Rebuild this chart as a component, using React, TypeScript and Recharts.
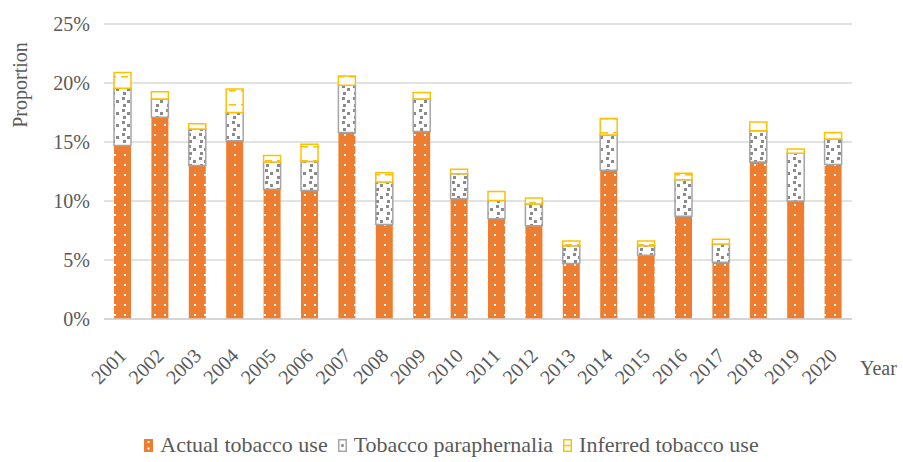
import React from "react";
import { BarChart, Bar, XAxis, YAxis, CartesianGrid, Legend, Label } from "recharts";

const years = ["2001","2002","2003","2004","2005","2006","2007","2008","2009","2010","2011","2012","2013","2014","2015","2016","2017","2018","2019","2020"];
const actualUse = [14.7, 17.1, 13.0, 15.1, 11.0, 10.9, 15.8, 8.0, 15.9, 10.2, 8.5, 7.9, 4.7, 12.6, 5.4, 8.7, 4.8, 13.3, 10.0, 13.1];
const paraphernalia = [4.85, 1.55, 3.1, 2.4, 2.3, 2.45, 4.0, 3.6, 2.75, 2.1, 1.55, 1.85, 1.5, 3.0, 0.8, 3.1, 1.55, 2.65, 4.05, 2.15];
const inferredUse = [1.35, 0.6, 0.45, 2.0, 0.55, 1.45, 0.8, 0.8, 0.55, 0.4, 0.75, 0.5, 0.4, 1.4, 0.4, 0.55, 0.4, 0.75, 0.35, 0.55];
const yTicks = [0, 5, 10, 15, 20, 25];
const seriesNames = ["Actual tobacco use", "Tobacco paraphernalia", "Inferred tobacco use"];

const data = years.map((y, i) => ({
  year: y,
  actual: actualUse[i],
  para: paraphernalia[i],
  inferred: inferredUse[i],
}));

const FONT = "'Liberation Serif', 'Times New Roman', serif";
const TXT = "#595959";
const ORANGE = "#ED7D31";
const GRAY = "#A5A5A5";
const SQ = "#8a8a8a";
const YELLOW = "#FFC000";

const XTick = (props: any) => {
  const { x, y, payload } = props;
  const ax = x + 5;
  const ay = y + 30;
  return (
    <text x={ax} y={ay} transform={`rotate(-45, ${ax}, ${ay})`} textAnchor="end" fill={TXT} fontSize={20} fontFamily={FONT}>
      {payload.value}
    </text>
  );
};

const YTick = (props: any) => {
  const { y, payload } = props;
  return (
    <text x={90} y={y} dy="0.36em" textAnchor="end" fill={TXT} fontSize={20} fontFamily={FONT}>
      {payload.value}%
    </text>
  );
};

const Icon = ({ kind }: { kind: number }) => {
  if (kind === 0) {
    return (
      <svg width={9} height={13} style={{ display: "block" }}>
        <rect x={0} y={0} width={9} height={13} fill={ORANGE} />
        <rect x={3.5} y={2} width={2} height={2} fill="#fff" />
        <rect x={3.5} y={8.5} width={2} height={2} fill="#fff" />
      </svg>
    );
  }
  if (kind === 1) {
    return (
      <svg width={9} height={13} style={{ display: "block" }}>
        <rect x={0.75} y={0.75} width={7.5} height={11.5} fill="#fff" stroke={GRAY} strokeWidth={1.5} />
        <rect x={3.2} y={5.2} width={2.6} height={2.6} fill={SQ} />
      </svg>
    );
  }
  return (
    <svg width={9} height={13} style={{ display: "block" }}>
      <rect x={0.75} y={0.75} width={7.5} height={11.5} fill="#fff" stroke={YELLOW} strokeWidth={1.5} />
      <rect x={1.5} y={5.8} width={6} height={1.5} fill={YELLOW} />
    </svg>
  );
};

const LegendContent = () => (
  <div style={{ display: "flex", justifyContent: "center", alignItems: "center", height: 40, paddingTop: 6, boxSizing: "border-box", fontFamily: FONT, fontSize: 22, color: TXT }}>
    {seriesNames.map((n, i) => (
      <div key={n} style={{ display: "flex", alignItems: "center", marginRight: i < 2 ? 10 : 0 }}>
        <Icon kind={i} />
        <span style={{ marginLeft: 7, whiteSpace: "nowrap" }}>{n}</span>
      </div>
    ))}
  </div>
);

export default function App() {
  return (
    <div style={{ position: "absolute", left: 0, top: 0, width: 903, height: 462, background: "#fff" }}>
      <BarChart width={903} height={462} data={data} margin={{ top: 24, right: 51, bottom: 0, left: 0 }} barSize={17}>
        <defs>
          <pattern id="pDots" width="10" height="10" patternUnits="userSpaceOnUse">
            <rect x="0" y="0" width="10" height="10" fill={ORANGE} />
            <rect x="4" y="4" width="2" height="2" fill="#fff" />
          </pattern>
          <pattern id="pSquares" width="11" height="12" patternUnits="userSpaceOnUse">
            <rect x="0" y="0" width="11" height="12" fill="#fff" />
            <rect x="1" y="1" width="3" height="3" fill={SQ} />
            <rect x="6" y="4" width="3" height="3" fill={SQ} />
            <rect x="2" y="8" width="3" height="3" fill={SQ} />
          </pattern>
          <pattern id="pLines" width="12" height="14" patternUnits="userSpaceOnUse">
            <rect x="0" y="0" width="12" height="14" fill="#fff" />
            <rect x="1" y="6" width="7" height="1.5" fill={YELLOW} />
          </pattern>
        </defs>
        <CartesianGrid vertical={false} stroke="#d9d9d9" strokeWidth={1.5} />
        <XAxis
          dataKey="year"
          height={103}
          interval={0}
          tick={<XTick />}
          tickLine={false}
          axisLine={{ stroke: "#d0d0d0", strokeWidth: 1.5 }}
        >
          <Label
            content={(p: any) => {
              const vb = p.viewBox;
              return (
                <text x={vb.x + vb.width + 8} y={vb.y + 56} fill={TXT} fontSize={20} fontFamily={FONT}>
                  Year
                </text>
              );
            }}
          />
        </XAxis>
        <YAxis
          width={104}
          domain={[0, 25]}
          ticks={yTicks}
          tick={<YTick />}
          tickLine={false}
          axisLine={false}
        >
          <Label
            content={() => (
              <text x={27} y={85} transform="rotate(-90, 27, 85)" textAnchor="middle" fill={TXT} fontSize={20} fontFamily={FONT}>
                Proportion
              </text>
            )}
          />
        </YAxis>
        <Legend verticalAlign="bottom" content={<LegendContent />} wrapperStyle={{ left: 0, width: 903 }} />
        <Bar dataKey="actual" name={seriesNames[0]} stackId="a" fill="url(#pDots)" isAnimationActive={false} />
        <Bar dataKey="para" name={seriesNames[1]} stackId="a" fill="url(#pSquares)" stroke={GRAY} strokeWidth={1.5} isAnimationActive={false} />
        <Bar dataKey="inferred" name={seriesNames[2]} stackId="a" fill="url(#pLines)" stroke={YELLOW} strokeWidth={1.5} isAnimationActive={false} />
      </BarChart>
    </div>
  );
}
